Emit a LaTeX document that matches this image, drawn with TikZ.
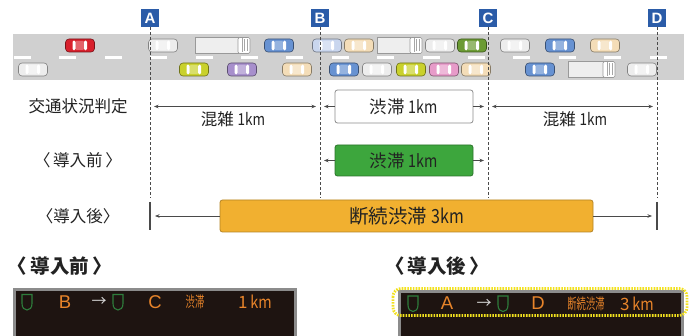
\documentclass[tikz,border=0pt]{standalone}
\usepackage{fontspec}
\setmainfont{Noto Sans CJK JP}
\newfontfamily\latinsans{Liberation Sans}
\usetikzlibrary{arrows.meta}

\newcommand\setfs[1]{\fontsize{#1}{#1}\selectfont}
\newcommand\condensed[2][0.82]{\scalebox{#1}[1]{#2}}

\definecolor{roadgray}{HTML}{D0D0D0}
\definecolor{markblue}{HTML}{2B5CA8}
\definecolor{guide}{HTML}{4A4A4A}
\definecolor{inkdark}{HTML}{222222}
\definecolor{jamgreen}{HTML}{3DA63D}
\definecolor{jamorange}{HTML}{F1B030}
\definecolor{panelbg}{HTML}{1E1411}
\definecolor{panelrim}{HTML}{8C8C8C}
\definecolor{ledorange}{HTML}{E8842A}
\definecolor{ledgreen}{HTML}{2E7D3C}
\definecolor{ledwhite}{HTML}{D8D8D8}
\definecolor{hilite}{HTML}{F2E11E}
% car body colours
\definecolor{carred}{HTML}{D8202C}
\definecolor{carwhite}{HTML}{EDEDED}
\definecolor{carblue}{HTML}{6792D2}
\definecolor{carpale}{HTML}{C9D6EE}
\definecolor{carpeach}{HTML}{F4DDB8}
\definecolor{carlime}{HTML}{C9D12C}
\definecolor{carpurple}{HTML}{A78FCC}
\definecolor{carpink}{HTML}{E79BC9}
\definecolor{cargreen}{HTML}{6B9B33}
\definecolor{truckbody}{HTML}{EEEEEE}

\tikzset{
  pics/car/.style={code={
    \draw[fill=#1, draw=#1!55!black, line width=0.6, rounded corners=3.5]
      (-14.5,-6.5) rectangle (14.5,6.5);
    \fill[#1!70!white, rounded corners=1] (-4.5,-4.5) rectangle (4,4.5);
    \fill[white, rounded corners=1.3] (-7.5,-4.8) rectangle (-4.5,4.8);
    \fill[white, rounded corners=1.3] (4,-4.8) rectangle (7,4.8);
  }},
  pics/truck/.style={code={
    \draw[fill=truckbody, draw=black!40, line width=0.6] (0,-8) rectangle (#1,8);
    \draw[fill=white, draw=black!40, line width=0.6, rounded corners=1.5]
      (#1,-8) rectangle ({#1+12},8);
    \draw[black!35, line width=0.5] ({#1+4},-7) -- ({#1+4},7)
      ({#1+6.5},-6) -- ({#1+6.5},6) ({#1+9},-6) -- ({#1+9},6);
  }},
  pics/shield/.style={code={
    \draw[ledgreen, line width=1.1] (-5,-7.5) -- (5,-7.5) -- (5,1.5)
      .. controls (5,6) and (2.5,8) .. (0,8)
      .. controls (-2.5,8) and (-5,6) .. (-5,1.5) -- cycle;
  }},
  marker/.style={fill=markblue, text=white, minimum size=18pt, inner sep=0pt,
    font=\latinsans\bfseries\setfs{15}},
  guideline/.style={draw=guide, line width=0.7, dash pattern=on 3pt off 2pt},
  endbar/.style={draw=guide, line width=1.2},
  span/.style={draw=guide, line width=0.6,
    {Stealth[length=4.5pt,width=3.5pt]}-{Stealth[length=4.5pt,width=3.5pt]}},
  tip/.style={draw=guide, line width=0.6, -{Stealth[length=4.5pt,width=3.5pt]}},
  rowlabel/.style={text=inkdark, inner sep=0pt, font=\setfs{16.5}},
  distlabel/.style={text=inkdark, inner sep=0pt, font=\setfs{16.5}},
  jambox/.style={rounded corners=2.5pt, line width=0.8, inner sep=0pt, text=inkdark},
  headlabel/.style={text=inkdark, inner sep=0pt, font=\bfseries\setfs{19.5}},
  ledtext/.style={text=ledorange, inner sep=0pt, font=\latinsans\setfs{18.5}},
  ledcjk/.style={text=ledorange, inner sep=0pt, font=\setfs{15}},
}

\begin{document}
\begin{tikzpicture}[x=1pt,y=-1pt]
\useasboundingbox (0,0) rectangle (692,336);
\clip (0,0) rectangle (692,336);
\fill[white] (0,0) rectangle (692,336);

% ---- road with lane markings ----
\fill[roadgray] (13,34) rectangle (684,80);
\foreach \i in {0,...,14}
  \fill[white] ({14+45.4*\i},56) rectangle ++(17,2.6);

% ---- upper lane ----
\pic at (80,45.5)  {car=carred};
\pic at (163,45.5) {car=carwhite};
\pic at (195,45.5) {truck=43};
\pic at (279,45.5) {car=carblue};
\pic at (327,45.5) {car=carpale};
\pic at (359,45.5) {car=carpeach};
\pic at (377,45.5) {truck=33};
\pic at (440,45.5) {car=carwhite};
\pic at (472,45.5) {car=cargreen};
\pic at (515,45.5) {car=carwhite};
\pic at (560,45.5) {car=carblue};
\pic at (605,45.5) {car=carpeach};

% ---- lower lane ----
\pic at (33,69.5)  {car=carwhite};
\pic at (194,69.5) {car=carlime};
\pic at (242,69.5) {car=carpurple};
\pic at (297,69.5) {car=carpeach};
\pic at (344,69.5) {car=carblue};
\pic at (377,69.5) {car=carwhite};
\pic at (411,69.5) {car=carlime};
\pic at (444,69.5) {car=carpink};
\pic at (476,69.5) {car=carpeach};
\pic at (540,69.5) {car=carblue};
\pic at (568,69.5) {truck=35};
\pic at (642,69.5) {car=carwhite};

% ---- section markers and their guide lines ----
\node[marker] (mA) at (150,18) {A};
\node[marker] (mB) at (320,18) {B};
\node[marker] (mC) at (488,18) {C};
\node[marker] (mD) at (657,18) {D};
\coordinate (gA) at (150,198);
\coordinate (gB) at (320,198);
\coordinate (gC) at (488,198);
\coordinate (gD) at (657,198);
\draw[guideline] (mA.south) -- (gA);
\draw[guideline] (mB.south) -- (gB);
\draw[guideline] (mC.south) -- (gC);
\draw[guideline] (mD.south) -- (gD);

% ---- row labels ----
\node[rowlabel] (lblJudge)  at (78,106) {交通状況判定};
\node[rowlabel] (lblBefore) at (78,160) {〈\,導入前\,〉};
\node[rowlabel] (lblAfter)  at (78,216) {〈導入後〉};

% ---- traffic judgement row ----
\node[jambox, draw=black!45, fill=white, minimum width=138, minimum height=33,
      font=\setfs{17.5}] (jamJudge) at (404,106.5) {渋滞 \condensed{1km}};
\coordinate (r1A)  at (154,106.5);
\coordinate (r1Bl) at (316,106.5);
\coordinate (r1Br) at (324,106.5);
\coordinate (r1Cl) at (484,106.5);
\coordinate (r1Cr) at (492,106.5);
\coordinate (r1D)  at (653,106.5);
\draw[span] (r1A) -- (r1Bl);
\draw[tip] (jamJudge.west) -- (r1Br);
\draw[tip] (jamJudge.east) -- (r1Cl);
\draw[span] (r1Cr) -- (r1D);
\node[distlabel] (mixAB) at (233,119) {混雑 \condensed{1km}};
\node[distlabel] (mixCD) at (575,119) {混雑 \condensed{1km}};

% ---- before row ----
\node[jambox, draw=jamgreen!70!black, fill=jamgreen, minimum width=138, minimum height=31,
      font=\setfs{17.5}] (jamBefore) at (404,160.5) {渋滞 \condensed{1km}};
\coordinate (r2B) at (324,160.5);
\coordinate (r2C) at (484,160.5);
\draw[tip] (jamBefore.west) -- (r2B);
\draw[tip] (jamBefore.east) -- (r2C);

% ---- after row ----
\node[jambox, draw=jamorange!75!black, fill=jamorange, minimum width=373, minimum height=32,
      font=\setfs{19.5}] (jamAfter) at (406.5,216) {断続渋滞 \condensed{3km}};
\coordinate (barAt) at (150,202);
\coordinate (barAb) at (150,230);
\coordinate (barDt) at (657,202);
\coordinate (barDb) at (657,230);
\draw[endbar] (barAt) -- (barAb);
\draw[endbar] (barDt) -- (barDb);
\coordinate (r3A) at (155,216);
\coordinate (r3D) at (652,216);
\draw[tip] (jamAfter.west) -- (r3A);
\draw[tip] (jamAfter.east) -- (r3D);

% ---- sign panels ----
\node[headlabel] (headBefore) at (60,266)  {〈\,導入前\,〉};
\node[headlabel] (headAfter)  at (437,266) {〈\,導入後\,〉};

\draw[panelrim, line width=3, fill=panelbg] (14.5,289.5) rectangle (295.5,345);
\draw[panelrim, line width=3, fill=panelbg] (399.5,291.5) rectangle (682.5,345);

% panel before
\pic at (27,302) {shield};
\node[ledtext] (pbFrom) at (65,302) {B};
\node[ledtext, text=ledwhite, font=\setfs{15}] (pbArrow) at (99,302) {→};
\pic at (118,302) {shield};
\node[ledtext] (pbTo) at (155,302) {C};
\node[ledcjk] (pbKind) at (195,302) {\condensed[0.62]{渋滞}};
\node[ledcjk, font=\setfs{17}] (pbLen) at (255,302) {1\,\condensed[0.85]{km}};

% panel after
\pic at (413,303.5) {shield};
\node[ledtext] (paFrom) at (447,303.5) {A};
\node[ledtext, text=ledwhite, font=\setfs{15}] (paArrow) at (484,303.5) {→};
\pic at (503,303.5) {shield};
\node[ledtext] (paTo) at (538,303.5) {D};
\node[ledcjk] (paKind) at (586,303.5) {\condensed[0.62]{断続渋滞}};
\node[ledcjk, font=\setfs{17}] (paLen) at (637,303.5) {3\,\condensed[0.85]{km}};

% highlight around the upper line of the new sign
\draw[hilite, line width=2.8, dash pattern=on 1.6pt off 1.2pt, rounded corners=8pt]
  (393,288.5) rectangle (687,315.5);
\end{tikzpicture}
\end{document}
